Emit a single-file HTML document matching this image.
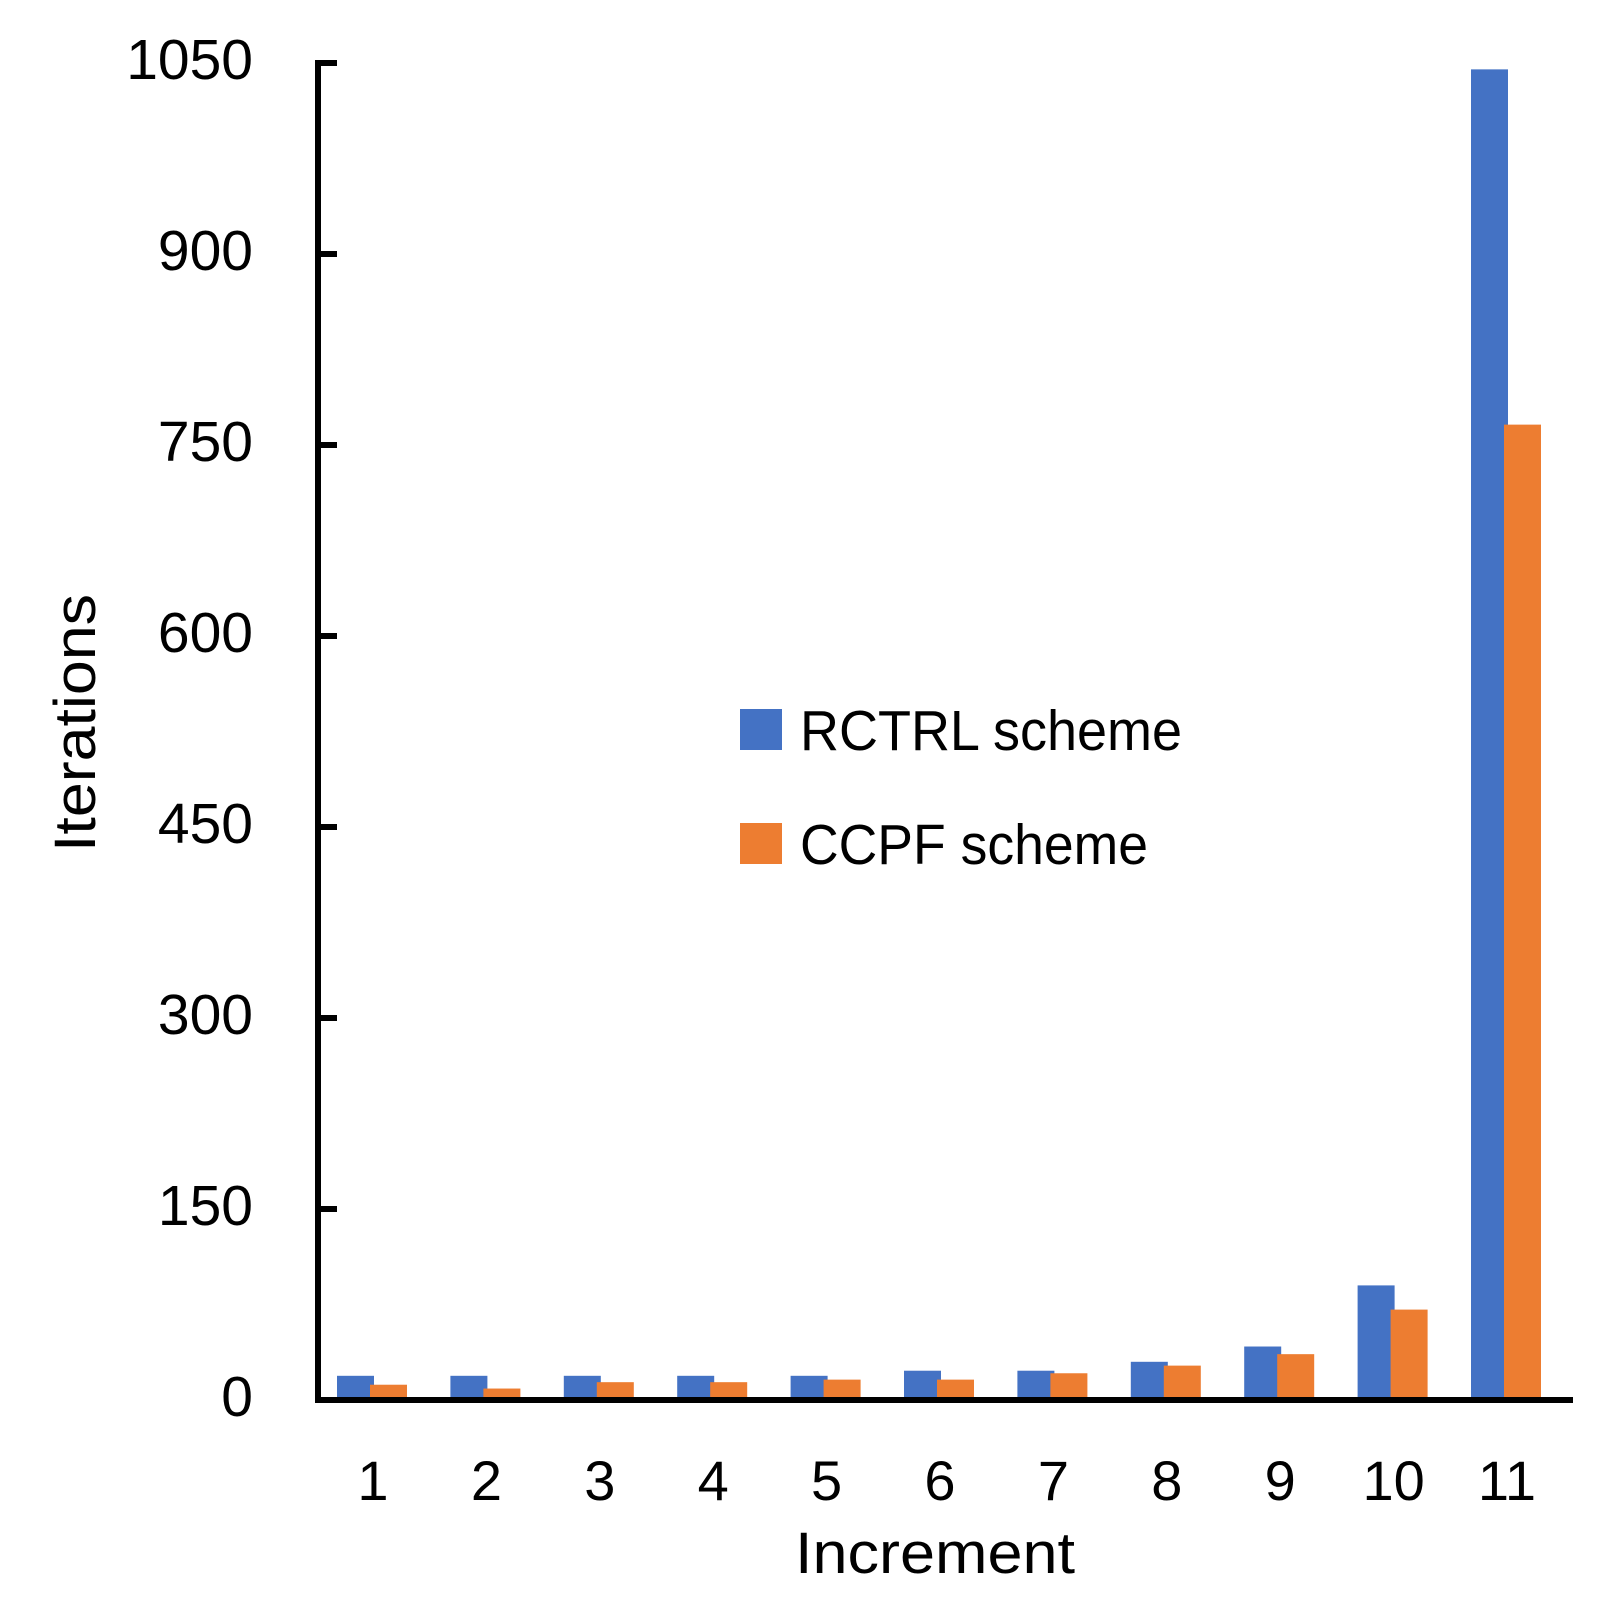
<!DOCTYPE html>
<html><head><meta charset="utf-8"><style>
html,body{margin:0;padding:0;background:#fff;}
svg{display:block;font-family:"Liberation Sans",sans-serif;}
</style></head><body>
<svg id="chart" width="1612" height="1612" viewBox="0 0 1612 1612" xmlns="http://www.w3.org/2000/svg">
<g id="bars"></g>
<g id="axes"></g>
<text x="0" y="0" transform="translate(95,723) rotate(-90)" text-anchor="middle" font-size="58" textLength="258" lengthAdjust="spacingAndGlyphs">Iterations</text>
<text x="935" y="1573" text-anchor="middle" font-size="58" textLength="280" lengthAdjust="spacingAndGlyphs">Increment</text>
<g>
<rect x="740" y="709" width="42" height="41" fill="#4472C4"/>
<text x="800" y="750" font-size="57" textLength="382" lengthAdjust="spacingAndGlyphs">RCTRL scheme</text>
<rect x="740" y="823" width="42" height="41" fill="#ED7D31"/>
<text x="800" y="864" font-size="57" textLength="348" lengthAdjust="spacingAndGlyphs">CCPF scheme</text>
</g>
</svg>
<script>
const categories = ["1","2","3","4","5","6","7","8","9","10","11"];
const rctrlValues = [19,19,19,19,19,23,23,30,42,90,1045];
const ccpfValues = [12,9,14,14,16,16,21,27,36,71,766];
const yTicks = [0,150,300,450,600,750,900,1050];

const NS = "http://www.w3.org/2000/svg";
const y0 = 1400, pxPerUnit = 1337/1050;
function yScale(v){ return y0 - v*pxPerUnit; }
const step = 113.4, firstCenter = 372;
function xCenter(i){ return firstCenter + i*step; }
const barW = 37;

const bars = document.getElementById('bars');
const axes = document.getElementById('axes');
function mk(tag, attrs, parent){
  const e = document.createElementNS(NS, tag);
  for (const k in attrs) e.setAttribute(k, attrs[k]);
  parent.appendChild(e);
  return e;
}
categories.forEach((c,i)=>{
  const cx = xCenter(i);
  const b = mk('rect',{x:cx-35,y:yScale(rctrlValues[i]),width:barW,height:y0-yScale(rctrlValues[i]),fill:'#4472C4'},bars);
  
  
  const o = mk('rect',{x:cx-2,y:yScale(ccpfValues[i]),width:barW,height:y0-yScale(ccpfValues[i]),fill:'#ED7D31'},bars);
  
  
  const t = mk('text',{x:cx+1,y:1500,'text-anchor':'middle','font-size':56},axes);
  t.textContent = c;
  
  
});
const ya = mk('line',{x1:318,y1:yScale(1050)-3,x2:318,y2:y0+3,stroke:'#000','stroke-width':6},axes);


const xa = mk('line',{x1:315,y1:y0,x2:1573,y2:y0,stroke:'#000','stroke-width':6},axes);


yTicks.forEach(v=>{
  const tk = mk('line',{x1:318,y1:yScale(v),x2:337,y2:yScale(v),stroke:'#000','stroke-width':6},axes);
  
  
  const t = mk('text',{x:253,y:yScale(v)+16,'text-anchor':'end','font-size':57},axes);
  t.textContent = v;
  
  
});
</script>
</body></html>
